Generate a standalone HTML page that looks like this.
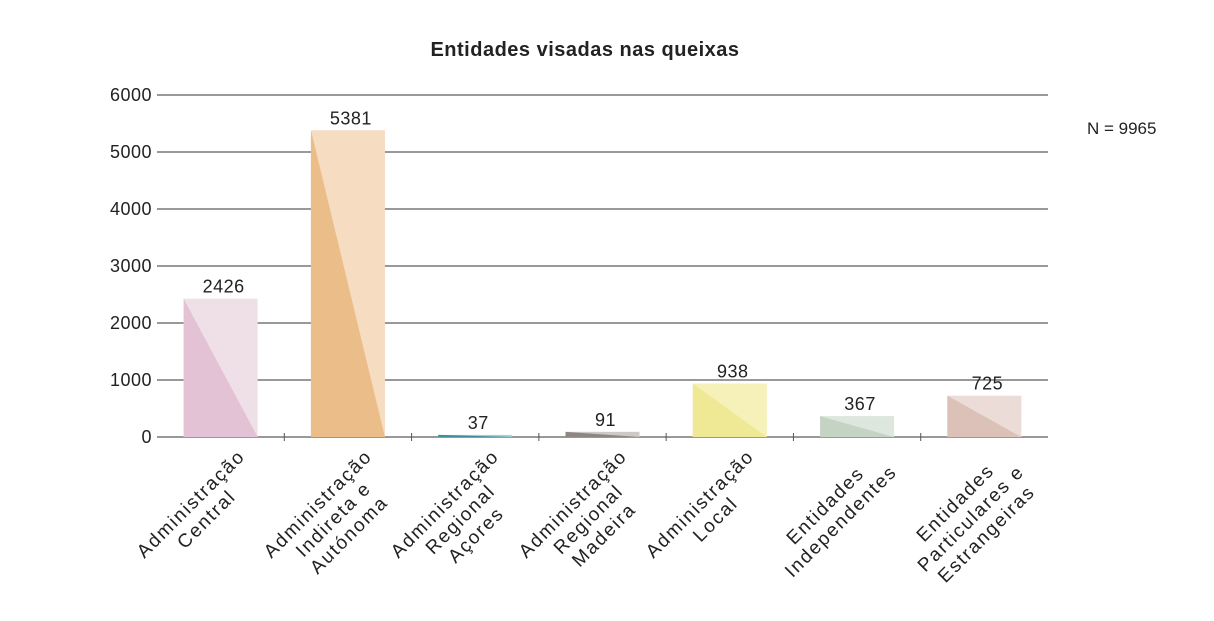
<!DOCTYPE html>
<html><head><meta charset="utf-8"><style>
body{margin:0;background:#fff;font-family:"Liberation Sans",sans-serif;}
svg text{font-family:"Liberation Sans",sans-serif;fill:#222;}
.lbl{position:absolute;font-size:19px;letter-spacing:1.8px;color:#222;text-align:center;line-height:22px;transform-origin:100% 0;transform:rotate(-45deg);white-space:nowrap;}
</style></head><body>
<div id="wrap" style="position:relative;width:1214px;height:616px;">
<svg id="svg" width="1214" height="616">
<text x="585" y="56" text-anchor="middle" font-size="20" font-weight="bold" letter-spacing="0.5">Entidades visadas nas queixas</text>
<text x="1087" y="134" font-size="17">N = 9965</text>
</svg>
</div>
<script>
const categories=[["Administração","Central"],["Administração","Indireta e","Autónoma"],["Administração","Regional","Açores"],["Administração","Regional","Madeira"],["Administração","Local"],["Entidades","Independentes"],["Entidades","Particulares e","Estrangeiras"]];
const values=[2426,5381,37,91,938,367,725];
const yTicks=[0,1000,2000,3000,4000,5000,6000];
const darkColors=["#e2c2d4","#ebbd88","#3f8c9c","#8e8682","#efe996","#c5d3c5","#dcc1b9"];
const lightColors=["#efdfe6","#f6dcc1","#a9d0d6","#cdc9c6","#f5f1b8","#dee7de","#ecdcd8"];
const NS="http://www.w3.org/2000/svg";
const svg=document.getElementById('svg'),wrap=document.getElementById('wrap');
const x0=157,x1=1048,y0=437,yTop=95,yMax=6000;
const band=(x1-x0)/categories.length,bw=74;
const y=v=>y0-(v/yMax)*(y0-yTop);
const xc=i=>x0+band*(i+0.5);
function mk(t,a){const e=document.createElementNS(NS,t);for(const k in a)e.setAttribute(k,a[k]);svg.appendChild(e);return e;}
yTicks.forEach(t=>{
 const l=mk('line',{x1:x0,x2:x1,y1:y(t),y2:y(t),stroke:'#333','stroke-width':1});
 
 
 const tx=mk('text',{x:x0-5,y:y(t)+6,'text-anchor':'end','font-size':18,'letter-spacing':0.5});
 tx.textContent=t;
 
 
});
for(let i=1;i<categories.length;i++){
 const tk=mk('line',{x1:x0+band*i,x2:x0+band*i,y1:y0-4,y2:y0+4,stroke:'#555'});
 
 
}
values.forEach((v,i)=>{
 const L=xc(i)-bw/2,R=xc(i)+bw/2,T=y(v);
 const r=mk('rect',{x:L,y:T,width:bw,height:y0-T,fill:lightColors[i]});
 
 
 const p=mk('polygon',{points:`${L},${T} ${R},${y0} ${L},${y0}`,fill:darkColors[i]});
 
 
 const tx=mk('text',{x:xc(i)+3,y:T-6,'text-anchor':'middle','font-size':18,'letter-spacing':0.5});
 tx.textContent=v;
 
 
 const d=document.createElement('div');
 d.className='lbl';
 
 
 d.innerHTML=categories[i].join('<br>');
 wrap.appendChild(d);
 const w=d.offsetWidth;
 d.style.left=(xc(i)+14-w)+'px';
 d.style.top='446px';
});
</script>
</body></html>
